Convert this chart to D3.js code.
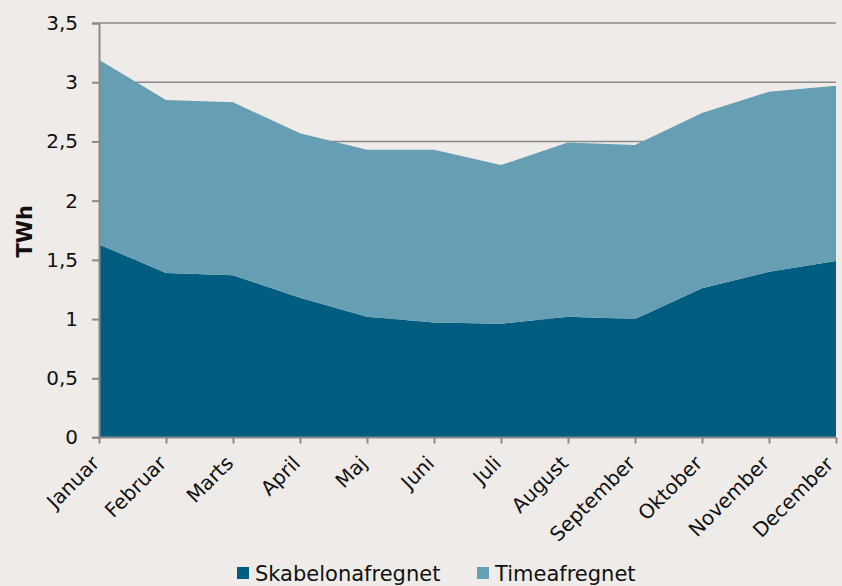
<!DOCTYPE html>
<html>
<head>
<meta charset="utf-8">
<script src="https://cdn.jsdelivr.net/npm/d3@7"></script>
<style>
  html, body { margin: 0; padding: 0; background: #EEEBE8; }
  svg { display: block; }
  text { font-family: "DejaVu Sans", Verdana, sans-serif; fill: #111; }
</style>
</head>
<body>
<svg id="chart" width="842" height="586"></svg>
<script>
const months = ["Januar","Februar","Marts","April","Maj","Juni","Juli","August","September","Oktober","November","December"];
const skabelon = [1.63,1.39,1.37,1.18,1.02,0.97,0.96,1.02,1.00,1.26,1.40,1.49];
const timeaf   = [1.56,1.46,1.46,1.39,1.41,1.46,1.34,1.47,1.47,1.48,1.52,1.48];
const seriesNames = ["Skabelonafregnet","Timeafregnet"];
const seriesColors = ["#005D80","#669FB4"];
const yTicks = [0,0.5,1,1.5,2,2.5,3,3.5];

const svg = d3.select("#chart");
const m = {left: 99, right: 6, top: 23, bottom: 148.5};
const W = 842, H = 586;

const x = d3.scalePoint().domain(months).range([m.left, W - m.right]);
const y = d3.scaleLinear().domain([0, 3.5]).range([H - m.bottom, m.top]);

const fmt = v => String(v).replace(".", ",");

// gridlines
svg.append("g").selectAll("line").data(yTicks.filter(d => d > 0)).join("line")
  .attr("x1", m.left).attr("x2", W - m.right)
  .attr("y1", d => y(d)).attr("y2", d => y(d))
  .attr("stroke", "#8a8a8a").attr("stroke-width", 1.6);

// stacked data
const table = months.map((mo, i) => ({month: mo, s0: skabelon[i], s1: timeaf[i]}));
const stack = d3.stack().keys(["s0","s1"]);
const layers = stack(table);
const area = d3.area()
  .x(d => x(d.data.month))
  .y0(d => y(d[0]))
  .y1(d => y(d[1]));

svg.append("g").selectAll("path").data(layers).join("path")
  .attr("d", area)
  .attr("fill", (d, i) => seriesColors[i]);

// y axis
const yAxis = d3.axisLeft(y).tickValues(yTicks).tickFormat(fmt).tickSize(7).tickPadding(14);
const gy = svg.append("g").attr("transform", `translate(${m.left},0)`).call(yAxis);
gy.select(".domain").attr("stroke", "#8a8a8a").attr("stroke-width", 2);
gy.selectAll(".tick line").attr("stroke", "#8a8a8a").attr("stroke-width", 2);
gy.selectAll(".tick text").style("font-size", "20px").attr("fill", "#111")
  .style("font-family", "'DejaVu Sans', Verdana, sans-serif");

// x axis
const xAxis = d3.axisBottom(x).tickSize(6).tickSizeOuter(0);
const gx = svg.append("g").attr("transform", `translate(0,${y(0)})`).call(xAxis);
gx.select(".domain").attr("stroke", "#8a8a8a").attr("stroke-width", 2)
  .attr("d", `M${m.left - 7},0H${W - m.right}`);
gx.selectAll(".tick line").attr("stroke", "#8a8a8a").attr("stroke-width", 2);
gx.selectAll(".tick text")
  .style("font-size", "20px").attr("fill", "#111")
  .style("font-family", "'DejaVu Sans', Verdana, sans-serif")
  .attr("text-anchor", "end")
  .attr("x", 0).attr("y", 0).attr("dy", 0)
  .attr("transform", (d, i) => i === months.length - 1
      ? "translate(-2,28) rotate(-45)"
      : "translate(1,27) rotate(-45)");

// y axis title
svg.append("text")
  .attr("transform", `translate(32,${(y(0) + y(3.5)) / 2 + 1}) rotate(-90)`)
  .attr("text-anchor", "middle")
  .style("font-size", "21px").style("font-weight", "bold")
  .text("TWh");

// legend
const legendX = [237, 477];
const lg = svg.append("g");
seriesNames.forEach((name, i) => {
  lg.append("rect").attr("x", legendX[i]).attr("y", 567).attr("width", 12).attr("height", 12)
    .attr("fill", seriesColors[i]);
  lg.append("text").attr("x", legendX[i] + 18).attr("y", 581)
    .style("font-size", "21px").text(name);
});
</script>
</body>
</html>
